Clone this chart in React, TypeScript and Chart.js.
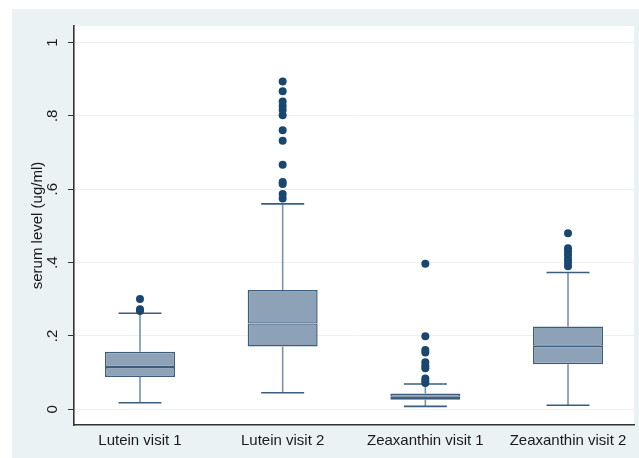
import React, { useEffect, useRef } from 'react';
import { Chart, registerables } from 'chart.js';

Chart.register(...registerables);

const categories = ['Lutein visit 1', 'Lutein visit 2', 'Zeaxanthin visit 1', 'Zeaxanthin visit 2'];
const positions = [1, 2, 3, 4];
const lowerWhisker = [0.018, 0.045, 0.008, 0.011];
const q1 = [0.088, 0.171, 0.026, 0.123];
const median = [0.115, 0.234, 0.034, 0.173];
const q3 = [0.157, 0.325, 0.043, 0.226];
const upperWhisker = [0.262, 0.56, 0.069, 0.373];
const outliersLutein1 = [0.301, 0.273, 0.268];
const outliersLutein2 = [0.894, 0.867, 0.839, 0.827, 0.816, 0.802, 0.761, 0.732, 0.667, 0.62, 0.614, 0.587, 0.575];
const outliersZeax1 = [0.397, 0.199, 0.162, 0.155, 0.128, 0.119, 0.112, 0.084, 0.077, 0.072];
const outliersZeax2 = [0.48, 0.439, 0.431, 0.421, 0.41, 0.4, 0.39];
const outlierGroups = [outliersLutein1, outliersLutein2, outliersZeax1, outliersZeax2];
const yTickValues = [0, 0.2, 0.4, 0.6, 0.8, 1];
const yTickLabels = ['0', '.2', '.4', '.6', '.8', '1'];

const FONT = '"Liberation Sans", Arial, sans-serif';
const BG = '#EAF2F3';
const BOX_FILL = '#8DA2B7';
const BOX_LINE = '#3D5D7F';
const WHISKER = '#7A92AA';
const CAP = '#3D5D7F';
const DOT = '#1A476F';
const TEXT = '#1A1A1A';

const bgPlugin = {
  id: 'stataBg',
  beforeDraw(chart: any) {
    const { ctx, chartArea, width, height } = chart;
    ctx.save();
    ctx.fillStyle = '#ffffff';
    ctx.fillRect(0, 0, width, height);
    ctx.fillStyle = BG;
    ctx.fillRect(12, 9, width - 12, height - 9);
    ctx.fillStyle = '#ffffff';
    ctx.fillRect(chartArea.left, chartArea.top, chartArea.right - chartArea.left, chartArea.bottom - chartArea.top);
    ctx.restore();
  },
};

export default function App() {
  const ref = useRef<HTMLCanvasElement | null>(null);
  useEffect(() => {
    if (!ref.current) return;
    const barCommon = {
      grouped: false,
      inflateAmount: 0,
      borderSkipped: false,
    };
    const chart = new Chart(ref.current, {
      type: 'bar',
      data: {
        datasets: [
          {
            type: 'scatter',
            label: 'outliers',
            order: 0,
            data: outlierGroups.flatMap((g, i) => g.map((v) => ({ x: positions[i], y: v }))),
            pointRadius: 4,
            pointBorderWidth: 0,
            pointBackgroundColor: DOT,
            pointBorderColor: DOT,
          } as any,
          {
            type: 'scatter',
            label: 'caps',
            order: 1,
            data: positions.flatMap((p, i) => [
              { x: p, y: lowerWhisker[i] },
              { x: p, y: upperWhisker[i] },
            ]),
            pointStyle: 'line',
            pointRadius: 21.5,
            pointBorderWidth: 1.6,
            pointBorderColor: CAP,
            pointBackgroundColor: CAP,
          } as any,
          {
            ...barCommon,
            label: 'box lower',
            order: 2,
            data: positions.map((p, i) => ({ x: p, y: [q1[i], median[i]] })),
            backgroundColor: BOX_FILL,
            borderColor: BOX_LINE,
            borderWidth: { top: 1.3, left: 1.5, right: 1.5, bottom: 1.5 },
            barThickness: 70,
          } as any,
          {
            ...barCommon,
            label: 'box upper',
            order: 2,
            data: positions.map((p, i) => ({ x: p, y: [median[i], q3[i]] })),
            backgroundColor: BOX_FILL,
            borderColor: BOX_LINE,
            borderWidth: { top: 1.5, left: 1.5, right: 1.5, bottom: 1.3 },
            barThickness: 70,
          } as any,
          {
            ...barCommon,
            label: 'whisker lower',
            order: 3,
            data: positions.map((p, i) => ({ x: p, y: [lowerWhisker[i], q1[i]] })),
            backgroundColor: WHISKER,
            borderWidth: 0,
            barThickness: 1.6,
          } as any,
          {
            ...barCommon,
            label: 'whisker upper',
            order: 3,
            data: positions.map((p, i) => ({ x: p, y: [q3[i], upperWhisker[i]] })),
            backgroundColor: WHISKER,
            borderWidth: 0,
            barThickness: 1.6,
          } as any,
        ],
      },
      options: {
        responsive: false,
        animation: false,
        events: [],
        layout: { autoPadding: false, padding: { top: 26, right: 5, bottom: 0, left: 0 } },
        plugins: {
          legend: { display: false },
          tooltip: { enabled: false },
        },
        scales: {
          x: {
            type: 'linear',
            offset: false,
            bounds: 'data',
            min: 0.5375,
            max: 4.4625,
            grid: { display: false, drawTicks: false, offset: false },
            border: { display: true, color: '#333333', width: 1.6 },
            afterBuildTicks: (scale: any) => {
              scale.ticks = positions.map((v) => ({ value: v }));
            },
            afterFit: (scale: any) => {
              scale.height = 33;
              scale.paddingLeft = 0;
              scale.paddingRight = 0;
            },
            ticks: {
              autoSkip: false,
              maxRotation: 0,
              minRotation: 0,
              padding: 7,
              color: TEXT,
              font: { family: FONT, size: 15 },
              callback: (v: any) => categories[positions.indexOf(Number(v))] ?? '',
            },
          },
          y: {
            type: 'linear',
            min: -0.0428,
            max: 1.045,
            grid: {
              display: true,
              color: BG,
              lineWidth: 1,
              drawTicks: true,
              tickLength: 6,
              tickColor: '#333333',
              tickWidth: 1,
            },
            border: { display: true, color: '#333333', width: 1.6 },
            afterBuildTicks: (scale: any) => {
              scale.ticks = yTickValues.map((v) => ({ value: v }));
            },
            afterFit: (scale: any) => {
              scale.width = 74;
              scale.paddingTop = 0;
              scale.paddingBottom = 0;
            },
            ticks: {
              minRotation: 90,
              maxRotation: 90,
              crossAlign: 'center',
              padding: 9,
              color: TEXT,
              font: { family: FONT, size: 15 },
              callback: (v: any) => {
                const idx = yTickValues.findIndex((t) => Math.abs(t - Number(v)) < 1e-9);
                return idx >= 0 ? yTickLabels[idx] : '';
              },
            },
            title: {
              display: true,
              text: 'serum level (ug/ml)',
              color: TEXT,
              font: { family: FONT, size: 15 },
              padding: { top: 29, bottom: 0 },
            },
          },
        },
      } as any,
      plugins: [bgPlugin],
    });
    return () => chart.destroy();
  }, []);
  return (
    <div style={{ position: 'absolute', left: 0, top: 0, width: 639, height: 458 }}>
      <canvas ref={ref} width={639} height={458} style={{ display: 'block' }} />
    </div>
  );
}
